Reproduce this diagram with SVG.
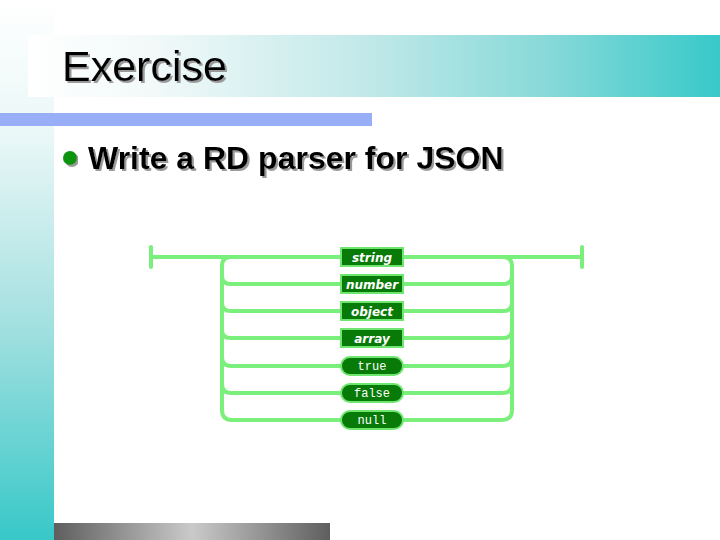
<svg xmlns="http://www.w3.org/2000/svg" width="720" height="540" viewBox="0 0 720 540">
<defs>
<linearGradient id="gStrip" x1="0" y1="0" x2="0" y2="540" gradientUnits="userSpaceOnUse">
<stop offset="0" stop-color="#ffffff"/>
<stop offset="0.25" stop-color="#eaf7f7"/>
<stop offset="0.6" stop-color="#a4e0e0"/>
<stop offset="1" stop-color="#38c8c8"/>
</linearGradient>
<linearGradient id="gTitle" x1="28" y1="0" x2="720" y2="0" gradientUnits="userSpaceOnUse">
<stop offset="0" stop-color="#ffffff"/>
<stop offset="0.18" stop-color="#f2f9f9"/>
<stop offset="0.5" stop-color="#bfe8e8"/>
<stop offset="0.75" stop-color="#88d9d9"/>
<stop offset="1" stop-color="#38c9c9"/>
</linearGradient>
<linearGradient id="gBottom" x1="54" y1="0" x2="330" y2="0" gradientUnits="userSpaceOnUse">
<stop offset="0" stop-color="#5e5e5e"/>
<stop offset="0.5" stop-color="#cacaca"/>
<stop offset="1" stop-color="#5e5e5e"/>
</linearGradient>
<filter id="shadow" x="-5%" y="-20%" width="110%" height="140%">
<feDropShadow dx="2" dy="2" stdDeviation="0.3" flood-color="#9a9a9a" flood-opacity="1"/>
</filter>
</defs>
<style>
.ln{fill:none;stroke:#7bef7b;stroke-width:4;stroke-linecap:round;stroke-linejoin:round}
.box{fill:#077a07;stroke:#6fe66f;stroke-width:2}
.nt{font-family:"DejaVu Sans",Verdana,sans-serif;font-weight:bold;font-style:italic;font-size:12px;fill:#ffffff;text-anchor:middle}
.lt{font-family:"Liberation Mono","Courier New",monospace;font-size:12px;fill:#ffffff;text-anchor:middle}
</style>
<rect width="720" height="540" fill="#ffffff"/>
<rect x="0" y="0" width="54" height="540" fill="url(#gStrip)"/>
<rect x="28" y="35" width="692" height="62" fill="url(#gTitle)"/>
<rect x="0" y="113" width="372" height="13" fill="#98aef6"/>
<rect x="54" y="523" width="276" height="17" fill="url(#gBottom)"/>
<text x="62" y="81" font-family="Liberation Sans, Arial, sans-serif" font-size="43" fill="#000000" filter="url(#shadow)">Exercise</text>
<circle cx="70" cy="158" r="7" fill="#0c940c" filter="url(#shadow)"/>
<text x="88" y="169" font-family="Liberation Sans, Arial, sans-serif" font-weight="bold" font-size="32" fill="#000000" filter="url(#shadow)">Write a RD parser for JSON</text>
<g id="connectors">
<path class="ln" d="M151 247 V267"/>
<path class="ln" d="M582 247 V267"/>
<path class="ln" d="M151 257 H342"/>
<path class="ln" d="M403 257 H582"/>
<path class="ln" d="M222 266 Q222 257 231 257"/>
<path class="ln" d="M512 266 Q512 257 503 257"/>
<path class="ln" d="M222 266 V410 Q222 420 232 420 H342"/>
<path class="ln" d="M512 266 V410 Q512 420 502 420 H403"/>
<path class="ln" d="M222 276 Q222 284 231 284 H342"/>
<path class="ln" d="M222 303 Q222 311 231 311 H342"/>
<path class="ln" d="M222 330 Q222 338 231 338 H342"/>
<path class="ln" d="M222 357 Q222 366 231 366 H342"/>
<path class="ln" d="M222 384 Q222 393 231 393 H342"/>
<path class="ln" d="M512 276 Q512 284 503 284 H403"/>
<path class="ln" d="M512 303 Q512 311 503 311 H403"/>
<path class="ln" d="M512 330 Q512 338 503 338 H403"/>
<path class="ln" d="M512 357 Q512 366 503 366 H403"/>
<path class="ln" d="M512 384 Q512 393 503 393 H403"/>
</g>
<g id="n-string"><rect class="box" x="341" y="248" width="62" height="18"/><text class="nt" x="372" y="261.5">string</text></g>
<g id="n-number"><rect class="box" x="341" y="275" width="62" height="18"/><text class="nt" x="372" y="288.5">number</text></g>
<g id="n-object"><rect class="box" x="341" y="302" width="62" height="18"/><text class="nt" x="372" y="315.5">object</text></g>
<g id="n-array"><rect class="box" x="341" y="329" width="62" height="18"/><text class="nt" x="372" y="342.5">array</text></g>
<g id="n-true"><rect class="box" x="341" y="357" width="62" height="18" rx="9"/><text class="lt" x="372" y="370">true</text></g>
<g id="n-false"><rect class="box" x="341" y="384" width="62" height="18" rx="9"/><text class="lt" x="372" y="397">false</text></g>
<g id="n-null"><rect class="box" x="341" y="411" width="62" height="18" rx="9"/><text class="lt" x="372" y="424">null</text></g>
</svg>
